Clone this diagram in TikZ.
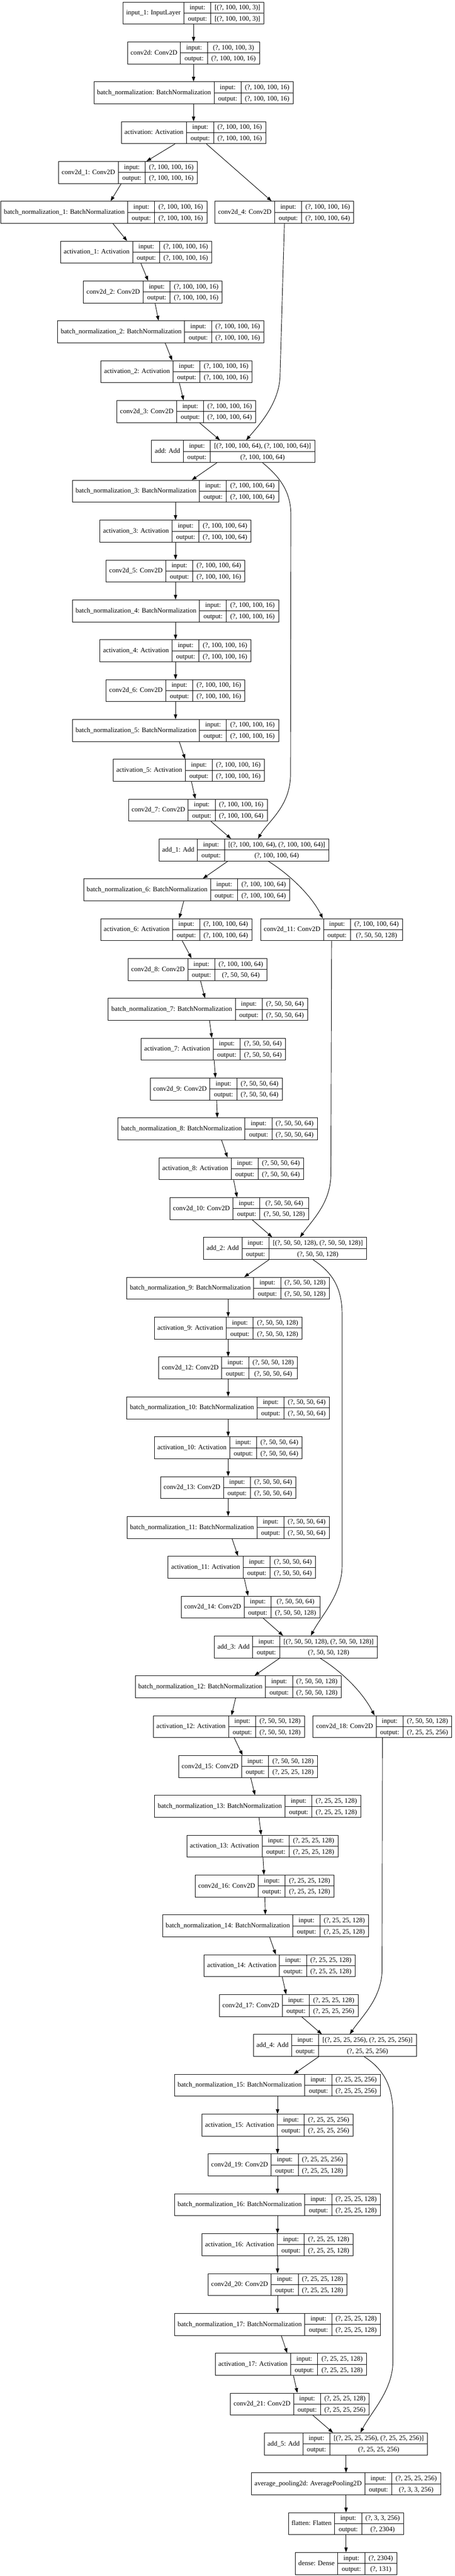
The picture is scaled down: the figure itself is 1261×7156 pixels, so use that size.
\documentclass[tikz,border=0pt]{standalone}
\usepackage{fontspec}
\setmainfont{Liberation Serif}
\usetikzlibrary{arrows.meta}

\setlength{\tabcolsep}{8pt}
\setlength{\arrayrulewidth}{1pt}
\renewcommand{\arraystretch}{1.318}

\tikzset{
  layerbox/.style={draw, line width=1pt, inner sep=0pt, fill=white,
    font=\fontsize{14pt}{17pt}\selectfont},
  flow/.style={-{Triangle[length=10pt,width=7pt]}, line width=1pt}
}

% name, x, row, label, input shape, output shape
\newcommand\layernode[6]{%
  \node[layerbox] (#1) at (#2,{36.4+110.7*#3}) {%
    \begin{tabular}{@{\hspace{6.5pt}}c@{\hspace{6.5pt}}|@{}c@{}}
      #4 & \begin{tabular}{c|c} input: & #5\\ \hline output: & #6 \end{tabular}
    \end{tabular}};}

\begin{document}
\begin{tikzpicture}[x=0.75pt,y=-0.75pt]
\path[use as bounding box, fill=white] (0,0) rectangle (1261,7156);

\layernode{input}{537}{0}{input\_1: InputLayer}{[(?, 100, 100, 3)]}{[(?, 100, 100, 3)]}
\layernode{conv}{537}{1}{conv2d: Conv2D}{(?, 100, 100, 3)}{(?, 100, 100, 16)}
\layernode{bn}{537}{2}{batch\_normalization: BatchNormalization}{(?, 100, 100, 16)}{(?, 100, 100, 16)}
\layernode{act}{537}{3}{activation: Activation}{(?, 100, 100, 16)}{(?, 100, 100, 16)}
\layernode{conv1}{355}{4}{conv2d\_1: Conv2D}{(?, 100, 100, 16)}{(?, 100, 100, 16)}
\layernode{bn1}{288}{5}{batch\_normalization\_1: BatchNormalization}{(?, 100, 100, 16)}{(?, 100, 100, 16)}
\layernode{conv4}{789}{5}{conv2d\_4: Conv2D}{(?, 100, 100, 16)}{(?, 100, 100, 64)}
\layernode{act1}{378}{6}{activation\_1: Activation}{(?, 100, 100, 16)}{(?, 100, 100, 16)}
\layernode{conv2}{424}{7}{conv2d\_2: Conv2D}{(?, 100, 100, 16)}{(?, 100, 100, 16)}
\layernode{bn2}{446}{8}{batch\_normalization\_2: BatchNormalization}{(?, 100, 100, 16)}{(?, 100, 100, 16)}
\layernode{act2}{490}{9}{activation\_2: Activation}{(?, 100, 100, 16)}{(?, 100, 100, 16)}
\layernode{conv3}{517}{10}{conv2d\_3: Conv2D}{(?, 100, 100, 16)}{(?, 100, 100, 64)}
\layernode{add}{647}{11}{add: Add}{[(?, 100, 100, 64), (?, 100, 100, 64)]}{(?, 100, 100, 64)}

\layernode{bn3}{487}{12}{batch\_normalization\_3: BatchNormalization}{(?, 100, 100, 64)}{(?, 100, 100, 64)}
\layernode{act3}{487}{13}{activation\_3: Activation}{(?, 100, 100, 64)}{(?, 100, 100, 64)}
\layernode{conv5}{487}{14}{conv2d\_5: Conv2D}{(?, 100, 100, 64)}{(?, 100, 100, 16)}
\layernode{bn4}{487}{15}{batch\_normalization\_4: BatchNormalization}{(?, 100, 100, 16)}{(?, 100, 100, 16)}
\layernode{act4}{487}{16}{activation\_4: Activation}{(?, 100, 100, 16)}{(?, 100, 100, 16)}
\layernode{conv6}{487}{17}{conv2d\_6: Conv2D}{(?, 100, 100, 16)}{(?, 100, 100, 16)}
\layernode{bn5}{487}{18}{batch\_normalization\_5: BatchNormalization}{(?, 100, 100, 16)}{(?, 100, 100, 16)}
\layernode{act5}{524}{19}{activation\_5: Activation}{(?, 100, 100, 16)}{(?, 100, 100, 16)}
\layernode{conv7}{549}{20}{conv2d\_7: Conv2D}{(?, 100, 100, 16)}{(?, 100, 100, 64)}
\layernode{add1}{677}{21}{add\_1: Add}{[(?, 100, 100, 64), (?, 100, 100, 64)]}{(?, 100, 100, 64)}

\layernode{bn6}{518}{22}{batch\_normalization\_6: BatchNormalization}{(?, 100, 100, 64)}{(?, 100, 100, 64)}
\layernode{act6}{489}{23}{activation\_6: Activation}{(?, 100, 100, 64)}{(?, 100, 100, 64)}
\layernode{conv11}{920}{23}{conv2d\_11: Conv2D}{(?, 100, 100, 64)}{(?, 50, 50, 128)}
\layernode{conv8}{548}{24}{conv2d\_8: Conv2D}{(?, 100, 100, 64)}{(?, 50, 50, 64)}
\layernode{bn7}{577}{25}{batch\_normalization\_7: BatchNormalization}{(?, 50, 50, 64)}{(?, 50, 50, 64)}
\layernode{act7}{592}{26}{activation\_7: Activation}{(?, 50, 50, 64)}{(?, 50, 50, 64)}
\layernode{conv9}{600}{27}{conv2d\_9: Conv2D}{(?, 50, 50, 64)}{(?, 50, 50, 64)}
\layernode{bn8}{604}{28}{batch\_normalization\_8: BatchNormalization}{(?, 50, 50, 64)}{(?, 50, 50, 64)}
\layernode{act8}{642}{29}{activation\_8: Activation}{(?, 50, 50, 64)}{(?, 50, 50, 64)}
\layernode{conv10}{664}{30}{conv2d\_10: Conv2D}{(?, 50, 50, 64)}{(?, 50, 50, 128)}
\layernode{add2}{791}{31}{add\_2: Add}{[(?, 50, 50, 128), (?, 50, 50, 128)]}{(?, 50, 50, 128)}

\layernode{bn9}{633}{32}{batch\_normalization\_9: BatchNormalization}{(?, 50, 50, 128)}{(?, 50, 50, 128)}
\layernode{act9}{633}{33}{activation\_9: Activation}{(?, 50, 50, 128)}{(?, 50, 50, 128)}
\layernode{conv12}{633}{34}{conv2d\_12: Conv2D}{(?, 50, 50, 128)}{(?, 50, 50, 64)}
\layernode{bn10}{633}{35}{batch\_normalization\_10: BatchNormalization}{(?, 50, 50, 64)}{(?, 50, 50, 64)}
\layernode{act10}{633}{36}{activation\_10: Activation}{(?, 50, 50, 64)}{(?, 50, 50, 64)}
\layernode{conv13}{633}{37}{conv2d\_13: Conv2D}{(?, 50, 50, 64)}{(?, 50, 50, 64)}
\layernode{bn11}{633}{38}{batch\_normalization\_11: BatchNormalization}{(?, 50, 50, 64)}{(?, 50, 50, 64)}
\layernode{act11}{671}{39}{activation\_11: Activation}{(?, 50, 50, 64)}{(?, 50, 50, 64)}
\layernode{conv14}{695}{40}{conv2d\_14: Conv2D}{(?, 50, 50, 64)}{(?, 50, 50, 128)}
\layernode{add3}{821}{41}{add\_3: Add}{[(?, 50, 50, 128), (?, 50, 50, 128)]}{(?, 50, 50, 128)}

\layernode{bn12}{661}{42}{batch\_normalization\_12: BatchNormalization}{(?, 50, 50, 128)}{(?, 50, 50, 128)}
\layernode{act12}{635}{43}{activation\_12: Activation}{(?, 50, 50, 128)}{(?, 50, 50, 128)}
\layernode{conv18}{1061}{43}{conv2d\_18: Conv2D}{(?, 50, 50, 128)}{(?, 25, 25, 256)}
\layernode{conv15}{688}{44}{conv2d\_15: Conv2D}{(?, 50, 50, 128)}{(?, 25, 25, 128)}
\layernode{bn13}{715}{45}{batch\_normalization\_13: BatchNormalization}{(?, 25, 25, 128)}{(?, 25, 25, 128)}
\layernode{act13}{728}{46}{activation\_13: Activation}{(?, 25, 25, 128)}{(?, 25, 25, 128)}
\layernode{conv16}{734}{47}{conv2d\_16: Conv2D}{(?, 25, 25, 128)}{(?, 25, 25, 128)}
\layernode{bn14}{737}{48}{batch\_normalization\_14: BatchNormalization}{(?, 25, 25, 128)}{(?, 25, 25, 128)}
\layernode{act14}{776}{49}{activation\_14: Activation}{(?, 25, 25, 128)}{(?, 25, 25, 128)}
\layernode{conv17}{801}{50}{conv2d\_17: Conv2D}{(?, 25, 25, 128)}{(?, 25, 25, 256)}
\layernode{add4}{929}{51}{add\_4: Add}{[(?, 25, 25, 256), (?, 25, 25, 256)]}{(?, 25, 25, 256)}

\layernode{bn15}{770}{52}{batch\_normalization\_15: BatchNormalization}{(?, 25, 25, 256)}{(?, 25, 25, 256)}
\layernode{act15}{770}{53}{activation\_15: Activation}{(?, 25, 25, 256)}{(?, 25, 25, 256)}
\layernode{conv19}{770}{54}{conv2d\_19: Conv2D}{(?, 25, 25, 256)}{(?, 25, 25, 128)}
\layernode{bn16}{770}{55}{batch\_normalization\_16: BatchNormalization}{(?, 25, 25, 128)}{(?, 25, 25, 128)}
\layernode{act16}{770}{56}{activation\_16: Activation}{(?, 25, 25, 128)}{(?, 25, 25, 128)}
\layernode{conv20}{770}{57}{conv2d\_20: Conv2D}{(?, 25, 25, 128)}{(?, 25, 25, 128)}
\layernode{bn17}{770}{58}{batch\_normalization\_17: BatchNormalization}{(?, 25, 25, 128)}{(?, 25, 25, 128)}
\layernode{act17}{807}{59}{activation\_17: Activation}{(?, 25, 25, 128)}{(?, 25, 25, 128)}
\layernode{conv21}{832}{60}{conv2d\_21: Conv2D}{(?, 25, 25, 128)}{(?, 25, 25, 256)}
\layernode{add5}{960}{61}{add\_5: Add}{[(?, 25, 25, 256), (?, 25, 25, 256)]}{(?, 25, 25, 256)}
\layernode{pool}{960}{62}{average\_pooling2d: AveragePooling2D}{(?, 25, 25, 256)}{(?, 3, 3, 256)}
\layernode{flat}{960}{63}{flatten: Flatten}{(?, 3, 3, 256)}{(?, 2304)}
\layernode{dense}{960}{64}{dense: Dense}{(?, 2304)}{(?, 131)}

% main chain
\draw[flow] (input) -- (conv);
\draw[flow] (conv) -- (bn);
\draw[flow] (bn) -- (act);
\draw[flow] (act) -- (conv1);
\draw[flow] (act) -- (conv4);
\draw[flow] (conv1) -- (bn1);
\draw[flow] (bn1) -- (act1);
\draw[flow] (act1) -- (conv2);
\draw[flow] (conv2) -- (bn2);
\draw[flow] (bn2) -- (act2);
\draw[flow] (act2) -- (conv3);
\draw[flow] (conv3) -- (add);
\draw[flow] (add) -- (bn3);
\draw[flow] (bn3) -- (act3);
\draw[flow] (act3) -- (conv5);
\draw[flow] (conv5) -- (bn4);
\draw[flow] (bn4) -- (act4);
\draw[flow] (act4) -- (conv6);
\draw[flow] (conv6) -- (bn5);
\draw[flow] (bn5) -- (act5);
\draw[flow] (act5) -- (conv7);
\draw[flow] (conv7) -- (add1);
\draw[flow] (add1) -- (bn6);
\draw[flow] (bn6) -- (act6);
\draw[flow] (act6) -- (conv8);
\draw[flow] (conv8) -- (bn7);
\draw[flow] (bn7) -- (act7);
\draw[flow] (act7) -- (conv9);
\draw[flow] (conv9) -- (bn8);
\draw[flow] (bn8) -- (act8);
\draw[flow] (act8) -- (conv10);
\draw[flow] (conv10) -- (add2);
\draw[flow] (add2) -- (bn9);
\draw[flow] (bn9) -- (act9);
\draw[flow] (act9) -- (conv12);
\draw[flow] (conv12) -- (bn10);
\draw[flow] (bn10) -- (act10);
\draw[flow] (act10) -- (conv13);
\draw[flow] (conv13) -- (bn11);
\draw[flow] (bn11) -- (act11);
\draw[flow] (act11) -- (conv14);
\draw[flow] (conv14) -- (add3);
\draw[flow] (add3) -- (bn12);
\draw[flow] (bn12) -- (act12);
\draw[flow] (act12) -- (conv15);
\draw[flow] (conv15) -- (bn13);
\draw[flow] (bn13) -- (act13);
\draw[flow] (act13) -- (conv16);
\draw[flow] (conv16) -- (bn14);
\draw[flow] (bn14) -- (act14);
\draw[flow] (act14) -- (conv17);
\draw[flow] (conv17) -- (add4);
\draw[flow] (add4) -- (bn15);
\draw[flow] (bn15) -- (act15);
\draw[flow] (act15) -- (conv19);
\draw[flow] (conv19) -- (bn16);
\draw[flow] (bn16) -- (act16);
\draw[flow] (act16) -- (conv20);
\draw[flow] (conv20) -- (bn17);
\draw[flow] (bn17) -- (act17);
\draw[flow] (act17) -- (conv21);
\draw[flow] (conv21) -- (add5);
\draw[flow] (add5) -- (pool);
\draw[flow] (pool) -- (flat);
\draw[flow] (flat) -- (dense);

% shortcut branches
\draw[flow] (conv4.south) -- (777,1040) .. controls (777,1120) and (715,1185) .. (add.41);
\draw[flow] (add.-21) .. controls (770,1320) and (807,1360) .. (807,1430) -- (806,2150) .. controls (806,2240) and (745,2280) .. (add1.39);
\draw[flow] (add1.-25) .. controls (790,2420) and (860,2480) .. (conv11.128);
\draw[flow] (conv11.south) -- (918,3260) .. controls (918,3340) and (870,3385) .. (add2.37);
\draw[flow] (add2.-22) .. controls (915,3530) and (949,3570) .. (949,3650) -- (949,4350) .. controls (949,4430) and (890,4490) .. (add3.37);
\draw[flow] (add3.-25) .. controls (935,4635) and (1000,4690) .. (conv18.125);
\draw[flow] (conv18.south) -- (1060,5470) .. controls (1060,5550) and (1005,5600) .. (add4.37);
\draw[flow] (add4.-21) .. controls (1060,5745) and (1090,5790) .. (1090,5870) -- (1090,6560) .. controls (1090,6640) and (1030,6700) .. (add5.38);
\end{tikzpicture}
\end{document}
